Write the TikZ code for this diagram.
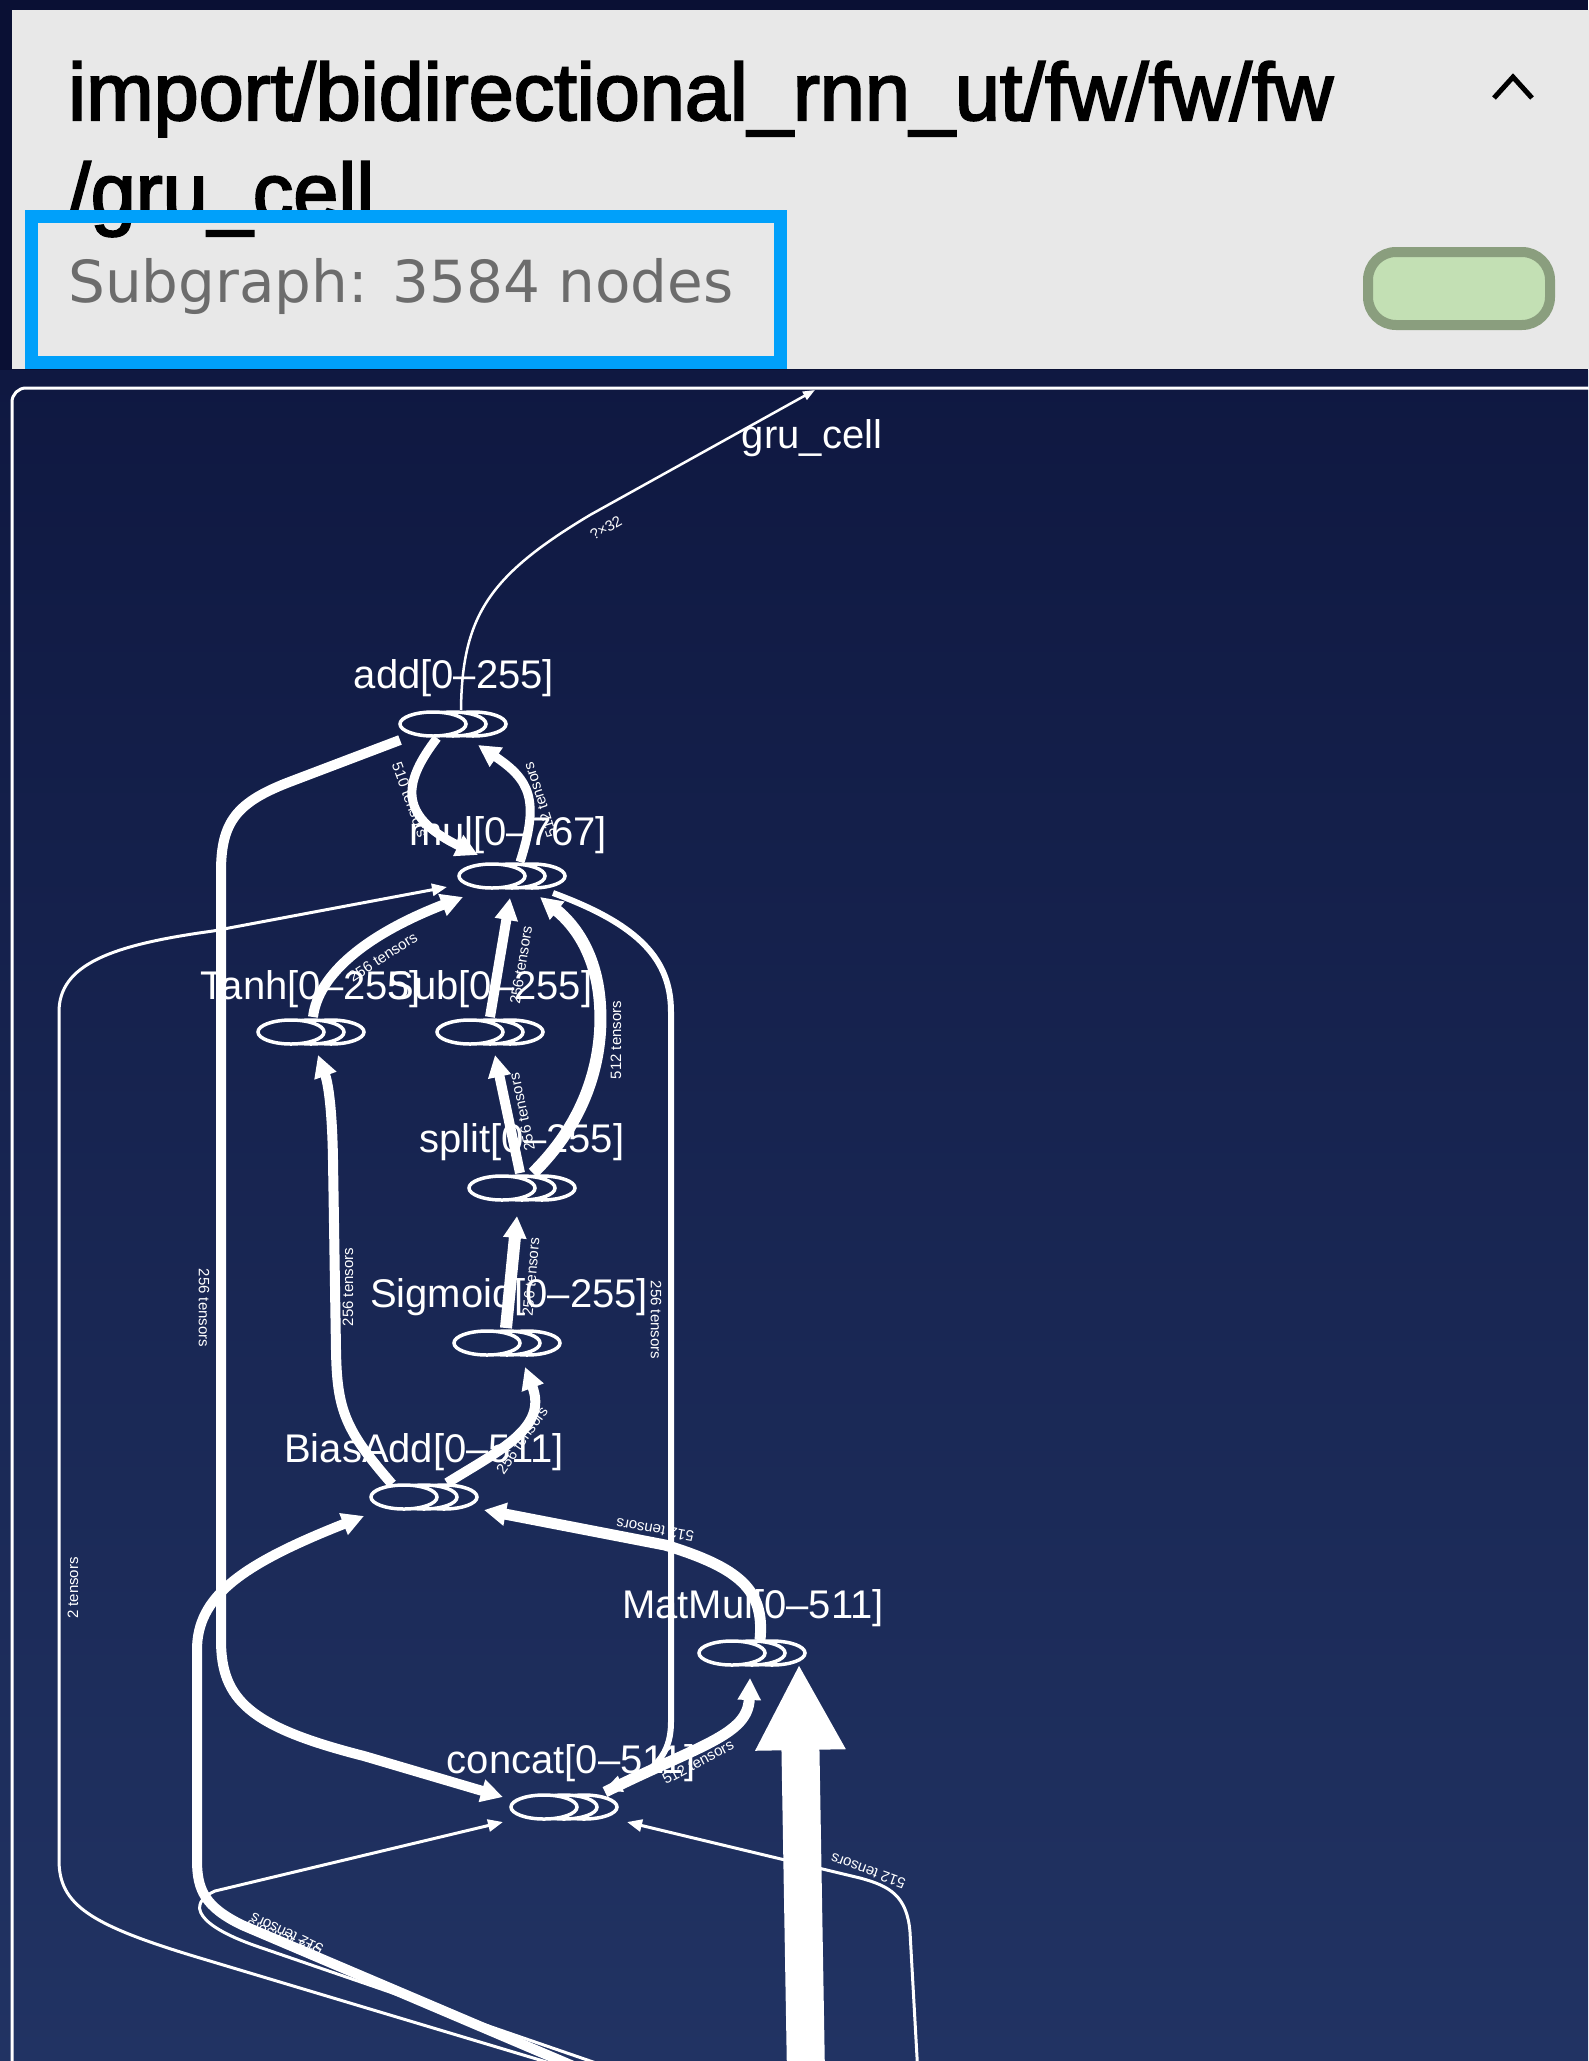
\documentclass[tikz,border=0pt]{standalone}
\usepackage{fontspec}
\setmainfont{Liberation Sans}
\newfontfamily\titlefont[FakeBold=2.5]{Liberation Sans}
\newfontfamily\subfont{DejaVu Sans}
\usetikzlibrary{shapes.geometric,arrows.meta,calc}
\definecolor{bgtop}{RGB}{15,24,65}
\definecolor{bgbot}{RGB}{33,51,99}
\definecolor{bgdark}{RGB}{10,16,52}
\definecolor{panelgray}{RGB}{232,232,232}
\definecolor{selblue}{RGB}{0,160,250}
\definecolor{pillfill}{RGB}{195,224,180}
\definecolor{pillline}{RGB}{138,158,126}
\definecolor{subgray}{RGB}{108,108,108}
\pgfdeclarelayer{bglayer}
\pgfdeclarelayer{edgelayer}
\pgfsetlayers{bglayer,edgelayer,main}
\tikzset{
  opell/.style={ellipse, draw=white, line width=3.5pt, minimum width=66pt, minimum height=24pt, inner sep=0pt},
  oplabel/.style={text=white, font=\fontsize{40}{40}\selectfont, anchor=base, inner sep=0pt},
  elabel/.style={text=white, font=\fontsize{15}{15}\selectfont, inner sep=0pt},
  thickedge/.style={draw=white, line width=10pt, -{Triangle[length=22pt,width=22pt]}},
  mededge/.style={draw=white, line width=6pt, -{Triangle[length=18pt,width=16pt]}},
  thinedge/.style={draw=white, line width=3pt, -{Triangle[length=15pt,width=12pt]}},
}
\newcommand\opstack[4]{%
  \node[opell, fill=bgbot!#4!bgtop] (#1c) at (#2+40,#3) {};
  \node[opell, fill=bgbot!#4!bgtop] (#1b) at (#2+20,#3) {};
  \node[opell, fill=bgbot!#4!bgtop] (#1) at (#2,#3) {};}
\begin{document}
\begin{tikzpicture}[x=1pt,y=-1pt]
\useasboundingbox (0,0) rectangle (1588,2061);
\begin{pgfonlayer}{bglayer}
  \fill[bgdark] (0,0) rectangle (1588,2061);
  \shade[top color=bgtop, bottom color=bgbot] (0,370) rectangle (1588,2061);
  \draw[white, line width=3pt, rounded corners=14pt] (12,2072) -- (12,388) -- (1600,388);
  \fill[panelgray] (12,10) rectangle (1600,369);
\end{pgfonlayer}

% header
\node[anchor=base west, inner sep=0pt, font=\titlefont\fontsize{81}{81}\selectfont] (title1) at (68,120) {import/bidirectional\_rnn\_ut/fw/fw/fw};
\node[anchor=base west, inner sep=0pt, font=\titlefont\fontsize{81}{81}\selectfont] (title2) at (68,220) {/gru\_cell};
\draw[selblue, line width=13pt] (31,216) rectangle (780,362);
\node[anchor=base west, inner sep=0pt, text=subgray, font=\subfont\fontsize{58}{58}\selectfont] (subg) at (68,302) {Subgraph: 3584 nodes};
\draw[black, line width=5pt, line join=miter] (1494,98) -- (1513,77) -- (1532,98);
\draw[draw=pillline, fill=pillfill, line width=10pt, rounded corners=28pt] (1368,252) rectangle (1550,325);

% op nodes
\opstack{add}{433}{724}{21}
\opstack{mul}{492}{876}{30}
\opstack{tanh}{291}{1032}{39}
\opstack{sub}{470}{1032}{39}
\opstack{split}{502}{1188}{48}
\opstack{sigm}{487}{1343}{58}
\opstack{bias}{404}{1497}{67}
\opstack{matmul}{732}{1653}{76}
\opstack{concat}{544}{1807}{85}

% op labels
\node[oplabel] (grul) at (812,448) {gru\_cell};
\node[oplabel] (addl) at (454,688) {add[0--255]};
\node[oplabel] (mull) at (508,845) {mul[0--767]};
\node[oplabel] (tanhl) at (311,999) {Tanh[0--255]};
\node[oplabel] (subl) at (490,999) {Sub[0--255]};
\node[oplabel] (splitl) at (522,1152) {split[0--255]};
\node[oplabel] (sigml) at (509,1307) {Sigmoid[0--255]};
\node[oplabel] (biasl) at (424,1462) {BiasAdd[0--511]};
\node[oplabel] (matmull) at (753,1618) {MatMul[0--511]};
\node[oplabel] (concatl) at (571,1773) {concat[0--511]};

% free ends
\coordinate (gruout) at (815,390);
\coordinate (inA) at (600,2078);
\coordinate (inB) at (660,2085);
\coordinate (inC) at (625,2088);
\coordinate (inD) at (806,2075);
\coordinate (inE) at (918,2075);

\begin{pgfonlayer}{edgelayer}
  % E1 add -> gru_cell
  \draw[white, line width=2.5pt, -{Triangle[length=12pt,width=9pt]}] ($(add)+(28,-14)$) .. controls (462,615) and (490,575) .. (590,515) -- (gruout);
  % E2 add -> mul
  \draw[thickedge, line width=9pt] ($(add)+(4,14)$) .. controls (405,780) and (395,815) .. ($(mul)+(-14,-21)$);
  % E3 mul -> add
  \draw[thickedge, line width=9pt] ($(mul)+(28,-14)$) .. controls (540,800) and (530,780) .. ($(add)+(45,21)$);
  % E4 bottom -> mul (thin, far left)
  \draw[thinedge] (inA) -- (200,1958) .. controls (90,1925) and (59,1905) .. (59,1860) -- (59,1012) .. controls (59,965) and (110,945) .. (213,931) -- ($(mul)+(-45,11)$);
  % E5 tanh -> mul
  \draw[thickedge] ($(tanh)+(22,-15)$) .. controls (318,975) and (365,935) .. ($(mul)+(-29,21)$);
  % E6 sub -> mul
  \draw[thickedge] ($(sub)+(20,-15)$) -- ($(mul)+(18,22)$);
  % E7 split -> mul
  \draw[thickedge, line width=12pt] ($(split)+(31,-15)$) .. controls (592,1115) and (603,1050) .. (600,1005) .. controls (597,955) and (575,925) .. ($(mul)+(48,21)$);
  % E8 mul -> concat
  \draw[mededge] ($(mul)+(61,17)$) .. controls (640,925) and (671,960) .. (671,1012) -- (671,1722) .. controls (671,1762) and (645,1775) .. ($(concat)+(60,-17)$);
  % E9 add -> concat
  \draw[thickedge] ($(add)+(-33,16)$) -- (292,781) .. controls (236,802) and (221,822) .. (221,872) -- (221,1640) .. controls (221,1700) and (250,1727) .. (364,1756) -- ($(concat)+(-41,-10)$);
  % E10 bottom -> concat
  \draw[thinedge] (inB) -- (262,1948) .. controls (196,1926) and (186,1904) .. (215,1891) -- ($(concat)+(-41,15)$);
  % E11 bottom -> BiasAdd
  \draw[thickedge] (inC) -- (242,1925) .. controls (205,1907) and (197,1890) .. (197,1860) -- (197,1650) .. controls (197,1597) and (240,1565) .. ($(bias)+(-40,19)$);
  % E12 MatMul -> BiasAdd
  \draw[thickedge, line width=11pt] ($(matmul)+(28,-13)$) .. controls (765,1590) and (740,1568) .. (665,1545) -- ($(bias)+(80,13)$);
  % E13 concat -> MatMul
  \draw[thickedge, line width=11pt] ($(concat)+(61,-15)$) .. controls (700,1745) and (748,1735) .. ($(matmul)+(18,25)$);
  % E14 big input -> MatMul
  \draw[draw=white, line width=38pt, -{Triangle[length=86pt,width=84pt]}] (inD) -- ($(matmul)+(67,11)$);
  % E15 bottom right -> concat
  \draw[thinedge] (inE) -- (910,1932) .. controls (907,1896) and (890,1886) .. (860,1878) -- ($(concat)+(83,15)$);
  % E16 Sigmoid -> split
  \draw[thickedge, line width=12pt] ($(sigm)+(19,-15)$) -- ($(split)+(15,28)$);
  % E17 split -> Sub
  \draw[thickedge] ($(split)+(18,-15)$) -- ($(sub)+(25,23)$);
  % E18 BiasAdd -> Sigmoid
  \draw[thickedge] ($(bias)+(43,-14)$) .. controls (500,1450) and (548,1428) .. ($(sigm)+(38,24)$);
  % E19 BiasAdd -> Tanh
  \draw[thickedge] ($(bias)+(-12,-13)$) .. controls (345,1430) and (337,1410) .. (336,1350) -- (333,1160) .. controls (332,1100) and (327,1080) .. ($(tanh)+(27,23)$);
\end{pgfonlayer}

% edge labels
\node[elabel, rotate=30] (l1) at (606,528) {?×32};
\node[elabel, rotate=-70] (l2) at (410,800) {510 tensors};
\node[elabel, rotate=108] (l3) at (540,800) {512 tensors};
\node[elabel, rotate=90] (l4) at (73,1588) {2 tensors};
\node[elabel, rotate=33] (l5) at (383,957) {256 tensors};
\node[elabel, rotate=81] (l6) at (521,965) {256 tensors};
\node[elabel, rotate=90] (l7) at (616,1040) {512 tensors};
\node[elabel, rotate=-90] (l8) at (656,1320) {256 tensors};
\node[elabel, rotate=-90] (l9) at (204,1308) {256 tensors};
\node[elabel, rotate=158] (l10) at (283,1939) {512 tensors};
\node[elabel, rotate=155] (l11) at (287,1934) {512 tensors};
\node[elabel, rotate=170] (l12) at (655,1530) {512 tensors};
\node[elabel, rotate=28] (l13) at (698,1762) {512 tensors};
\node[elabel, rotate=160] (l15) at (868,1871) {512 tensors};
\node[elabel, rotate=85] (l16) at (531,1277) {256 tensors};
\node[elabel, rotate=102] (l17) at (522,1112) {256 tensors};
\node[elabel, rotate=55] (l18) at (522,1440) {256 tensors};
\node[elabel, rotate=90] (l19) at (348,1287) {256 tensors};
\end{tikzpicture}
\end{document}
